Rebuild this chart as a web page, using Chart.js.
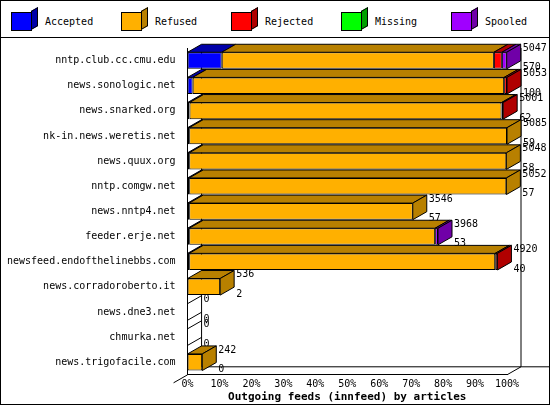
<!DOCTYPE html>
<html>
<head>
<meta charset="utf-8">
<script src="https://cdn.jsdelivr.net/npm/chart.js@4/dist/chart.umd.min.js"></script>
<style>
body { margin: 0; background: #fff; }
#wrap { position: relative; width: 548px; height: 403px; border: 1px solid #000; font-family: "DejaVu Sans Mono", monospace; font-size: 10px; }
#legend { position: absolute; left: 0; top: 0; width: 548px; height: 36px; border-bottom: 1px solid #000; }
.item { position: absolute; top: 9px; }
.box { position: absolute; top: 2px; width: 21px; height: 19px; border: 1px solid #000; box-sizing: border-box; }
.side { position: absolute; left: 20px; top: -1px; width: 7px; height: 19px; transform: skewY(-30deg); border: 1px solid #000; box-sizing: border-box; }
.txt { position: absolute; left: 34px; top: 6px; white-space: nowrap; }
canvas { position: absolute; left: 0; top: 37px; }
</style>
</head>
<body>
<div id="wrap">
  <div id="legend"></div>
  <canvas id="c" width="548" height="366"></canvas>
</div>
<script>
const hosts = ['nntp.club.cc.cmu.edu', 'news.sonologic.net', 'news.snarked.org', 'nk-in.news.weretis.net',
  'news.quux.org', 'nntp.comgw.net', 'news.nntp4.net', 'feeder.erje.net', 'newsfeed.endofthelinebbs.com',
  'news.corradoroberto.it', 'news.dne3.net', 'chmurka.net', 'news.trigofacile.com'];
const seriesNames = ['Accepted', 'Refused', 'Rejected', 'Missing', 'Spooled'];
const accepted = [10.7, 1.6, 0.6, 0.5, 0.5, 0.5, 0.5, 0.5, 0.5, 0, 0, 0, 0];
const refused  = [85.2, 97.5, 97.7, 99.5, 99.3, 99.3, 70.0, 77.0, 95.8, 10.2, 0, 0, 4.6];
const rejected = [2.5, 0.9, 0.5, 0, 0, 0, 0, 0, 0.7, 0, 0, 0, 0];
const missing  = [0, 0, 0, 0, 0, 0, 0, 0, 0, 0, 0, 0, 0];
const spooled  = [1.5, 0, 0, 0, 0, 0, 0, 0.9, 0, 0, 0, 0, 0];
const offered  = [5047, 5053, 5001, 5085, 5048, 5052, 3546, 3968, 4920, 536, 0, 0, 242];
const kbytes   = [570, 100, 62, 59, 58, 57, 57, 53, 40, 2, 0, 0, 0];
const ticks = [0, 10, 20, 30, 40, 50, 60, 70, 80, 90, 100];

const front = ['#0000ff', '#ffb000', '#ff0000', '#00ff00', '#a000ff'];
const dark  = ['#0000a8', '#b88000', '#b00000', '#00a000', '#7000a8'];
const DX = 14, DY = -8;

const leg = document.getElementById('legend');
seriesNames.forEach((n, i) => {
  const d = document.createElement('div');
  d.className = 'item';
  d.style.left = (10 + i * 110) + 'px';
  d.innerHTML = '<div class="box" style="background:' + front[i] + '"></div><div class="side" style="background:' + dark[i] + '"></div><div class="txt">' + n + '</div>';
  leg.appendChild(d);
});

const bars3d = {
  id: 'bars3d',
  beforeDatasetsDraw(chart) {
    const ctx = chart.ctx, x = chart.scales.x, y = chart.scales.y;
    ctx.save();
    ctx.strokeStyle = '#000';
    ctx.lineWidth = 1;
    ctx.beginPath();
    ctx.moveTo(x.left + DX, y.top); ctx.lineTo(x.left + DX, y.bottom + DY);
    ctx.lineTo(x.right + DX + 40, y.bottom + DY);
    ctx.moveTo(x.right + DX, y.top); ctx.lineTo(x.right + DX, y.bottom + DY);
    ctx.lineTo(x.right, y.bottom);
    ctx.moveTo(x.left, y.bottom); ctx.lineTo(x.left - DX, y.bottom - DY);
    ctx.stroke();
    ctx.restore();
  },
  afterDatasetsDraw(chart) {
    const ctx = chart.ctx;
    ctx.save();
    ctx.strokeStyle = '#000';
    ctx.lineWidth = 1;
    hosts.forEach((h, r) => {
      let last = null, lastIdx = -1;
      chart.data.datasets.forEach((ds, di) => {
        const el = chart.getDatasetMeta(di).data[r];
        if (!ds.data[r]) return;
        const x0 = el.base, x1 = el.x, t = el.y - el.height / 2;
        ctx.fillStyle = dark[di];
        ctx.beginPath();
        ctx.moveTo(x0, t); ctx.lineTo(x0 + DX, t + DY); ctx.lineTo(x1 + DX, t + DY); ctx.lineTo(x1, t);
        ctx.closePath(); ctx.fill(); ctx.stroke();
        last = el; lastIdx = di;
      });
      const el0 = chart.getDatasetMeta(0).data[r];
      const t = el0.y - el0.height / 2, b = el0.y + el0.height / 2;
      let xe = chart.scales.x.left;
      if (last) {
        xe = last.x;
        ctx.fillStyle = dark[lastIdx];
        ctx.beginPath();
        ctx.moveTo(xe, t); ctx.lineTo(xe + DX, t + DY); ctx.lineTo(xe + DX, b + DY); ctx.lineTo(xe, b);
        ctx.closePath(); ctx.fill(); ctx.stroke();
      } else {
        ctx.beginPath();
        ctx.moveTo(xe, t); ctx.lineTo(xe + DX, t + DY);
        ctx.moveTo(xe, b); ctx.lineTo(xe + DX, b + DY);
        ctx.stroke();
      }
      ctx.fillStyle = '#000';
      ctx.font = '10px "DejaVu Sans Mono"';
      ctx.textAlign = 'left';
      ctx.textBaseline = 'middle';
      ctx.fillText(String(offered[r]), xe + DX + 2, t - 4);
      ctx.fillText(String(kbytes[r]), xe + DX + 2, b - 1);
    });
    ctx.restore();
  }
};

const mk = (i, data) => ({
  label: seriesNames[i], data: data, backgroundColor: front[i],
  borderColor: '#000', borderWidth: 1, borderSkipped: false,
  barPercentage: 0.66, categoryPercentage: 1
});

new Chart(document.getElementById('c'), {
  type: 'bar',
  data: {
    labels: hosts,
    datasets: [mk(0, accepted), mk(1, refused), mk(2, rejected), mk(3, missing), mk(4, spooled)]
  },
  options: {
    indexAxis: 'y',
    responsive: false,
    animation: false,
    layout: { padding: { top: 10, right: 42, left: 2, bottom: 0 } },
    plugins: {
      legend: { display: false },
      tooltip: { enabled: false }
    },
    scales: {
      x: {
        stacked: true, min: 0, max: 100,
        afterBuildTicks: a => { a.ticks = ticks.map(v => ({ value: v })); },
        ticks: { callback: v => v + '%', color: '#000', maxRotation: 0, padding: 0,
          font: { family: 'DejaVu Sans Mono', size: 10 } },
        grid: { display: false, drawTicks: true, tickLength: 4 },
        border: { color: '#000' },
        title: { display: true, text: 'Outgoing feeds (innfeed) by articles', color: '#000',
          padding: { top: 0, bottom: 0 }, font: { family: 'DejaVu Sans Mono', size: 11, weight: 'bold' } }
      },
      y: {
        stacked: true,
        ticks: { color: '#000', padding: 4, font: { family: 'DejaVu Sans Mono', size: 10 } },
        grid: { display: false },
        border: { color: '#000' }
      }
    }
  },
  plugins: [bars3d]
});
</script>
</body>
</html>
